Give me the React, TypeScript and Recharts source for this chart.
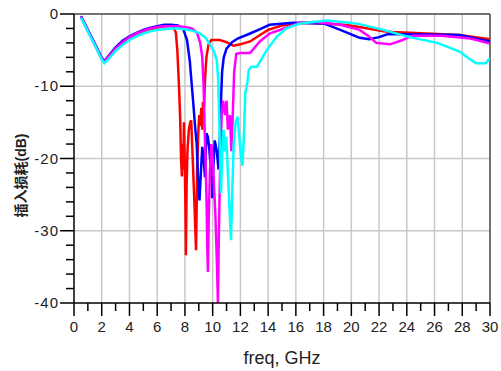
import { LineChart, Line, XAxis, YAxis, ReferenceLine } from 'recharts'

/* ─── Data (freq in GHz, insertion loss in dB) ─── */

const RED: [number, number][] = [
  [0.5, -0.4], [1, -2.3], [1.5, -4.2], [2, -6.2], [2.2, -6.6], [2.5, -6.0], [3, -4.9], [3.5, -4.0],
  [4, -3.3], [4.5, -2.8], [5, -2.4], [5.5, -2.1], [6, -1.9], [6.5, -1.7], [7, -1.7], [7.2, -1.9],
  [7.35, -2.6], [7.45, -5], [7.55, -9], [7.65, -14], [7.72, -20], [7.78, -22.5], [7.83, -18],
  [7.88, -21.5], [7.93, -15], [7.98, -20], [8.04, -27], [8.07, -33.4], [8.12, -24], [8.18, -19],
  [8.28, -16], [8.38, -15], [8.45, -14.7], [8.52, -18], [8.6, -22], [8.7, -27], [8.8, -32.7],
  [8.88, -22], [8.95, -17], [9.03, -14], [9.1, -15.5], [9.18, -13], [9.25, -16], [9.3, -12.2],
  [9.38, -12.8], [9.45, -9], [9.55, -6], [9.7, -4.2], [9.9, -3.6], [10.5, -3.6], [11, -3.9],
  [11.5, -4.4], [12, -4.2], [12.7, -3.8], [13.5, -2.8], [14, -2.2], [15, -1.6], [16.3, -1.2],
  [18.2, -1.3], [19.5, -1.5], [20.6, -1.8], [21.5, -2.1], [22.3, -2.4], [23, -2.5], [25.4, -2.7],
  [27.8, -2.9], [30, -3.5],
]

const BLUE: [number, number][] = [
  [0.5, -0.3], [1, -2.2], [1.5, -4.1], [2, -6.1], [2.2, -6.5], [2.5, -5.8], [3, -4.6], [3.5, -3.7],
  [4, -3.1], [4.5, -2.6], [5, -2.2], [5.5, -1.9], [6, -1.7], [6.5, -1.5], [7, -1.5], [7.5, -1.6],
  [7.9, -2.2], [8.15, -3.6], [8.35, -6.5], [8.5, -10], [8.6, -12.3], [8.75, -16], [8.85, -18],
  [8.95, -23], [9.05, -25.8], [9.15, -22], [9.25, -18.4], [9.35, -20], [9.45, -22.6], [9.55, -16.5],
  [9.65, -17], [9.75, -18.5], [9.85, -21], [9.92, -19], [9.97, -25.5], [10.05, -21], [10.15, -17.5],
  [10.3, -19], [10.42, -21.5], [10.52, -17], [10.6, -12], [10.68, -8], [10.8, -6], [11, -4.8],
  [11.4, -3.9], [11.8, -3.4], [12.7, -2.7], [13.3, -2.2], [14.1, -1.5], [15.8, -1.2], [18, -1.3],
  [19.2, -2.2], [20.6, -3.3], [21.3, -3.5], [22, -3.2], [22.6, -2.8], [24, -2.8], [27.8, -2.9],
  [30, -3.8],
]

const MAGENTA: [number, number][] = [
  [0.5, -0.4], [1, -2.3], [1.5, -4.2], [2, -6.2], [2.2, -6.6], [2.5, -5.9], [3, -4.8], [3.5, -3.9],
  [4, -3.2], [4.5, -2.7], [5, -2.3], [5.5, -2.0], [6, -1.8], [6.5, -1.7], [7, -1.7], [7.5, -1.7],
  [8, -1.8], [8.5, -2.0], [8.87, -2.6], [9.1, -4], [9.25, -6], [9.35, -10], [9.42, -16], [9.5, -21],
  [9.56, -26], [9.62, -33], [9.66, -35.7], [9.72, -28], [9.8, -22], [9.9, -18], [10, -20],
  [10.1, -24], [10.2, -28], [10.3, -34], [10.38, -40], [10.45, -30], [10.55, -20], [10.65, -14],
  [10.75, -12], [10.9, -14], [11, -12], [11.1, -16], [11.25, -14], [11.35, -19], [11.45, -14],
  [11.55, -8], [11.7, -5.5], [12, -5.4], [12.7, -5.4], [13.4, -3.8], [14.1, -2.7], [15.6, -1.7],
  [16.3, -1.2], [17.4, -1.1], [19.2, -1.5], [20.6, -2.2], [21.2, -3.0], [21.8, -4.0], [22.8, -4.2],
  [23.7, -3.6], [24.4, -3.0], [26.5, -3.0], [28.6, -3.4], [30, -4.1],
]

const CYAN: [number, number][] = [
  [0.5, -0.5], [1, -2.4], [1.5, -4.3], [2, -6.3], [2.2, -6.8], [2.5, -6.2], [3, -5.1], [3.5, -4.3],
  [4, -3.6], [4.5, -3.1], [5, -2.7], [5.5, -2.4], [6, -2.2], [6.5, -2.1], [7, -2.0], [7.5, -2.0],
  [8, -2.1], [8.5, -2.3], [9, -2.6], [9.5, -3.3], [9.8, -4.2], [10.1, -5.2], [10.3, -6.5],
  [10.4, -9], [10.48, -15], [10.55, -21], [10.6, -24.8], [10.68, -20], [10.78, -16], [10.88, -19],
  [10.98, -17], [11.1, -22], [11.22, -27], [11.32, -31.3], [11.42, -24], [11.52, -18], [11.65, -15],
  [11.8, -14.2], [11.92, -17], [12.05, -20], [12.15, -21], [12.25, -17], [12.35, -11], [12.5, -9.5],
  [12.6, -7.8], [12.8, -7.3], [13.2, -7.3], [13.9, -5], [14.6, -3.2], [15.3, -2], [16.3, -1.3],
  [18.2, -0.9], [19.9, -1.2], [20.6, -1.4], [22.3, -2.2], [24.2, -3.2], [26.2, -4.0], [27.8, -5.2],
  [28.5, -6.2], [29, -6.8], [29.7, -6.8], [30, -6.1],
]

const X_TICKS = [0, 1, 2, 3, 4, 5, 6, 7, 8, 9, 10, 11, 12, 13, 14, 15, 16, 17, 18, 19, 20, 21, 22, 23, 24, 25, 26, 27, 28, 29, 30]
const Y_TICKS = [-40, -38, -36, -34, -32, -30, -28, -26, -24, -22, -20, -18, -16, -14, -12, -10, -8, -6, -4, -2, 0]
const X_GRID = [2, 4, 6, 8, 10, 12, 14, 16, 18, 20, 22, 24, 26, 28]
const Y_GRID = [-10, -20, -30]

const SERIES = [
  { name: 'red', color: '#ff0000', points: RED },
  { name: 'blue', color: '#0000ff', points: BLUE },
  { name: 'magenta', color: '#ff00ff', points: MAGENTA },
  { name: 'cyan', color: '#00ffff', points: CYAN },
]

const FONT = '"Liberation Sans", Arial, "Noto Sans CJK SC", sans-serif'

/* ─── Ticks ─── */

function XTick({ x, y, payload }: any) {
  const major = payload.value % 2 === 0
  return (
    <g>
      <line x1={x} x2={x} y1={y} y2={y + (major ? 13 : 8)} stroke="#000" strokeWidth={1.5} />
      {major && (
        <text x={x} y={y + 29} textAnchor="middle" fontSize={15} fill="#222" fontFamily={FONT}>
          {payload.value}
        </text>
      )}
    </g>
  )
}

function YTick({ x, y, payload }: any) {
  const major = payload.value % 10 === 0
  return (
    <g>
      <line x1={x - (major ? 14 : 8)} x2={x} y1={y} y2={y} stroke="#000" strokeWidth={1.5} />
      {major && (
        <text x={x - 15} y={y + 5} textAnchor="end" fontSize={15} letterSpacing={1} fill="#222" fontFamily={FONT}>
          {payload.value}
        </text>
      )}
    </g>
  )
}

/* ─── Main ─── */

export default function App() {
  return (
    <div style={{ position: 'absolute', left: 0, top: 0, background: '#fff' }}>
      <LineChart width={501} height={371} margin={{ top: 14, right: 11, bottom: 0, left: 0 }}>
        <XAxis
          type="number"
          dataKey="f"
          domain={[0, 30]}
          ticks={X_TICKS}
          interval={0}
          tick={<XTick />}
          tickSize={0}
          tickMargin={0}
          tickLine={false}
          axisLine={{ stroke: '#000', strokeWidth: 1.5 }}
          height={68}
          allowDataOverflow
          label={{
            content: ({ viewBox }: any) => (
              <text
                x={viewBox.x + viewBox.width / 2}
                y={viewBox.y + 61}
                textAnchor="middle"
                fontSize={18}
                fill="#222"
                fontFamily={FONT}
              >
                freq, GHz
              </text>
            ),
          }}
        />
        <YAxis
          type="number"
          domain={[-40, 0]}
          ticks={Y_TICKS}
          interval={0}
          tick={<YTick />}
          tickSize={0}
          tickMargin={0}
          tickLine={false}
          axisLine={{ stroke: '#000', strokeWidth: 1.5 }}
          width={74}
          allowDataOverflow
          label={{
            content: ({ viewBox }: any) => {
              const cx = 21
              const cy = viewBox.y + viewBox.height / 2 + 17
              return (
                <text
                  x={cx}
                  y={cy}
                  transform={`rotate(-90 ${cx} ${cy})`}
                  textAnchor="middle"
                  dominantBaseline="central"
                  fontSize={14}
                  fontWeight="bold"
                  fill="#222"
                  fontFamily={FONT}
                >
                  插入损耗(dB)
                </text>
              )
            },
          }}
        />

        {/* grid */}
        {X_GRID.map((v) => (
          <ReferenceLine key={`gx${v}`} x={v} stroke="#c8c8c8" strokeWidth={1.5} />
        ))}
        {Y_GRID.map((v) => (
          <ReferenceLine key={`gy${v}`} y={v} stroke="#c8c8c8" strokeWidth={1.5} />
        ))}
        {/* frame */}
        <ReferenceLine y={0} stroke="#444" strokeWidth={1.5} />
        <ReferenceLine x={30} stroke="#444" strokeWidth={1.5} />

        {SERIES.map((s) => (
          <Line
            key={s.name}
            data={s.points.map(([f, db]) => ({ f, db }))}
            dataKey="db"
            type="linear"
            stroke={s.color}
            strokeWidth={2.5}
            dot={false}
            activeDot={false}
            isAnimationActive={false}
          />
        ))}
      </LineChart>
    </div>
  )
}
